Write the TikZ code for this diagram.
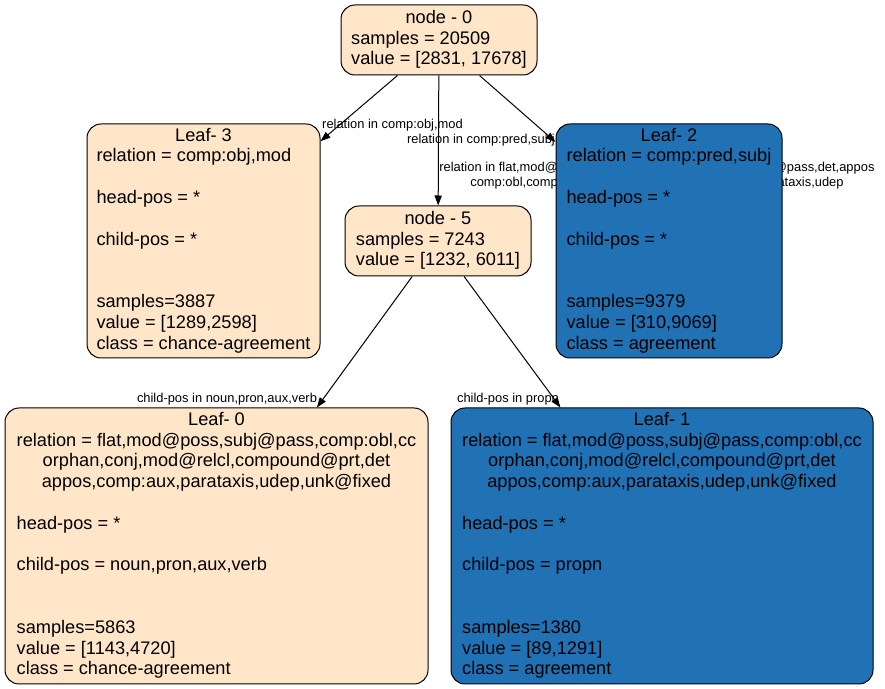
\documentclass[tikz,border=0pt]{standalone}
\usepackage{fontspec}
\setmainfont{Liberation Sans}
\usetikzlibrary{arrows.meta,backgrounds}
\definecolor{leafcream}{HTML}{FFE6C8}
\definecolor{leafblue}{HTML}{2171B5}
\newcommand{\ttl}[1]{\multicolumn{1}{@{}c@{}}{#1}}

\begin{document}
\begin{tikzpicture}[x=0.5pt,y=-0.5pt,
  box/.style={draw, rounded corners=7pt, line width=0.5pt, inner sep=0pt, font=\fontsize{9.1}{10.4}\selectfont},
  creambox/.style={box, fill=leafcream},
  bluebox/.style={box, fill=leafblue},
  elabel/.style={font=\fontsize{6.45}{7.5}\selectfont, inner sep=0pt, align=center},
  link/.style={line width=0.5pt, -{Triangle[length=5pt,width=3.6pt]}}]
  \useasboundingbox (0,0) rectangle (885,689);
  % split nodes
  \node[creambox, minimum width=98pt, minimum height=35pt] (n0) at (439,40) {\begin{tabular}{@{}l@{}}\ttl{node - 0}\\ samples = 20509\\ value = [2831, 17678]\end{tabular}};
  \node[creambox, minimum width=93pt, minimum height=35pt] (n5) at (438,241) {\begin{tabular}{@{}l@{}}\ttl{node - 5}\\ samples = 7243\\ value = [1232, 6011]\end{tabular}};
  % leaves
  \node[creambox, minimum width=116.5pt, minimum height=117pt] (leaf3) at (203.5,241) {\begin{tabular}{@{}l@{}}\ttl{Leaf- 3}\\ relation = comp:obj,mod\\ \\ head-pos = *\\ \\ child-pos = *\\ \\ \\ samples=3887\\ value = [1289,2598]\\ class = chance-agreement\end{tabular}};
  \node[bluebox, minimum width=113pt, minimum height=117pt] (leaf2) at (669,241) {\begin{tabular}{@{}l@{}}\ttl{Leaf- 2}\\ relation = comp:pred,subj\\ \\ head-pos = *\\ \\ child-pos = *\\ \\ \\ samples=9379\\ value = [310,9069]\\ class = agreement\end{tabular}};
  \node[creambox, minimum width=211.5pt, minimum height=138pt] (leaf0) at (216.5,546) {\begin{tabular}{@{}l@{}}\ttl{Leaf- 0}\\ \ttl{relation = flat,mod@poss,subj@pass,comp:obl,cc}\\ \ttl{orphan,conj,mod@relcl,compound@prt,det}\\ \ttl{appos,comp:aux,parataxis,udep,unk@fixed}\\ \\ head-pos = *\\ \\ child-pos = noun,pron,aux,verb\\ \\ \\ samples=5863\\ value = [1143,4720]\\ class = chance-agreement\end{tabular}};
  \node[bluebox, minimum width=211pt, minimum height=138pt] (leaf1) at (662,546) {\begin{tabular}{@{}l@{}}\ttl{Leaf- 1}\\ \ttl{relation = flat,mod@poss,subj@pass,comp:obl,cc}\\ \ttl{orphan,conj,mod@relcl,compound@prt,det}\\ \ttl{appos,comp:aux,parataxis,udep,unk@fixed}\\ \\ head-pos = *\\ \\ child-pos = propn\\ \\ \\ samples=1380\\ value = [89,1291]\\ class = agreement\end{tabular}};
  % edges and their labels go under the boxes
  \begin{scope}[on background layer]
    \node[elabel] (lobj) at (392.5,125) {relation in comp:obj,mod};
    \node[elabel] (lpred) at (481,140) {relation in comp:pred,subj};
    \node[elabel, anchor=west] (lrest) at (439,175.5) {relation in flat,mod@poss,dep,orphan,conj,mod@relcl,subj@pass,det,appos\\ comp:obl,compound@prt,cc,unk@fixed,comp:aux,parataxis,udep};
    \node[elabel] (lnoun) at (227,399) {child-pos in noun,pron,aux,verb};
    \node[elabel] (lpropn) at (508,399) {child-pos in propn};
    \draw[link] (n0) -- (leaf3);
    \draw[link] (n0) -- (n5);
    \draw[link] (n0) -- (leaf2);
    \draw[link] (n5) -- (leaf0);
    \draw[link] (n5) -- (leaf1);
  \end{scope}
\end{tikzpicture}
\end{document}
